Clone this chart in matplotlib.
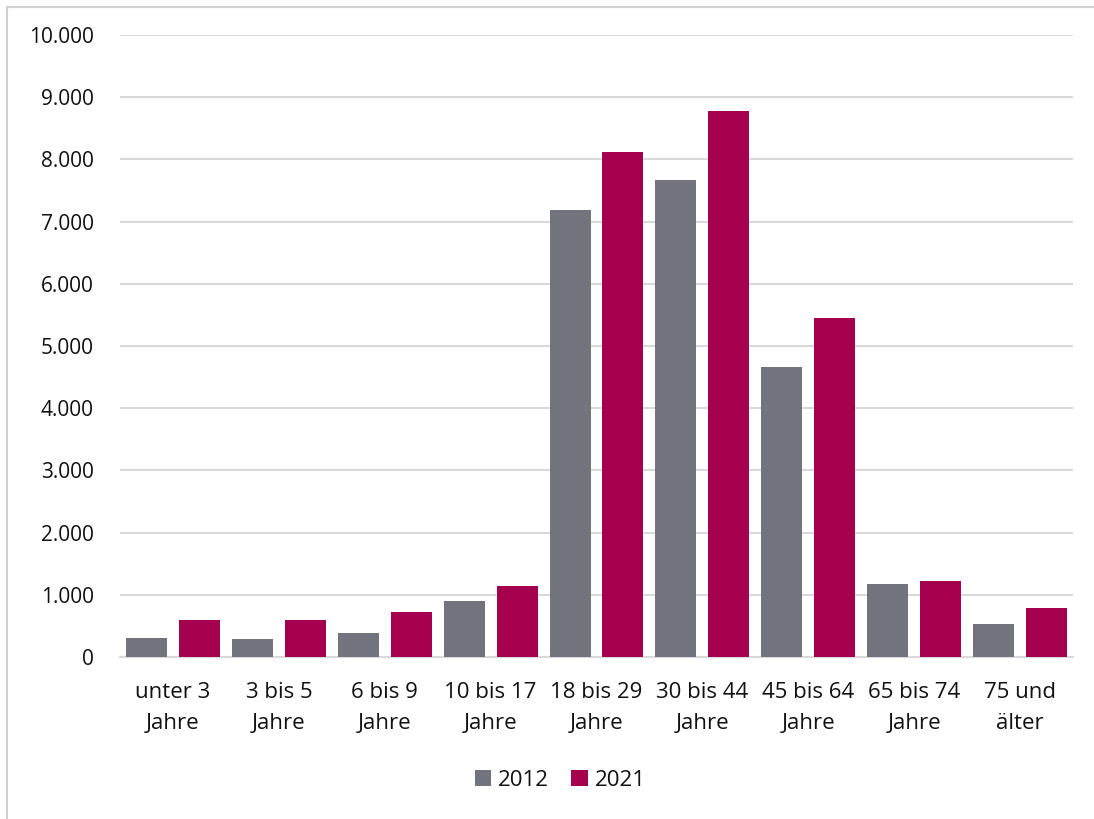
import numpy as np
import matplotlib.pyplot as plt
from matplotlib.patches import Rectangle

plt.rcParams['font.family'] = ['Open Sans', 'DejaVu Sans']

# Altersgruppen
kategorien = ["unter 3\nJahre", "3 bis 5\nJahre", "6 bis 9\nJahre", "10 bis 17\nJahre",
              "18 bis 29\nJahre", "30 bis 44\nJahre", "45 bis 64\nJahre",
              "65 bis 74\nJahre", "75 und\nälter"]
werte_2012 = [306, 295, 391, 897, 7182, 7665, 4670, 1170, 536]
werte_2021 = [591, 596, 730, 1148, 8116, 8771, 5454, 1224, 794]
yticks = np.arange(0, 10001, 1000)

grau = "#73737D"
rot = "#A50050"

fig = plt.figure(figsize=(10.94, 8.19), dpi=100)
ax = fig.add_axes([120/1094, 1-657/819, (1073-120)/1094, (657-35)/819])

x = np.arange(len(kategorien))
w = 0.387
ax.bar(x - 0.25, werte_2012, w, color=grau, label="2012", zorder=3)
ax.bar(x + 0.25, werte_2021, w, color=rot, label="2021", zorder=3)

ax.set_xlim(-0.5, len(kategorien) - 0.5)
ax.set_ylim(0, 10000)
ax.set_yticks(yticks)
ax.set_yticklabels([f"{v:,}".replace(",", ".") for v in yticks])
ax.set_xticks(x)
ax.set_xticklabels(kategorien, linespacing=1.62)
ax.tick_params(axis='both', length=0, colors="#111111")
ax.tick_params(axis='x', labelsize=16, pad=18)
ax.tick_params(axis='y', labelsize=15, pad=19)
ax.grid(axis='y', color="#D9D9D9", linewidth=1.5, zorder=0)
for s in ["top", "right", "left"]:
    ax.spines[s].set_visible(False)
ax.spines["bottom"].set_color("#D9D9D9")
ax.spines["bottom"].set_linewidth(1.5)

fig.legend(loc="center", bbox_to_anchor=(560/1094, 1-780/819), ncol=2, frameon=False,
           fontsize=16, handlelength=0.75, handleheight=0.75, handletextpad=0.3,
           columnspacing=1.0, labelcolor="#111111")

# Rahmen
fig.patches.append(Rectangle((7/1094, -0.01), 1.1, 1-7/819 + 0.01, transform=fig.transFigure,
                             fill=False, edgecolor="#D0D0D0", linewidth=1.5))

fig.savefig("out.png", dpi=100)
